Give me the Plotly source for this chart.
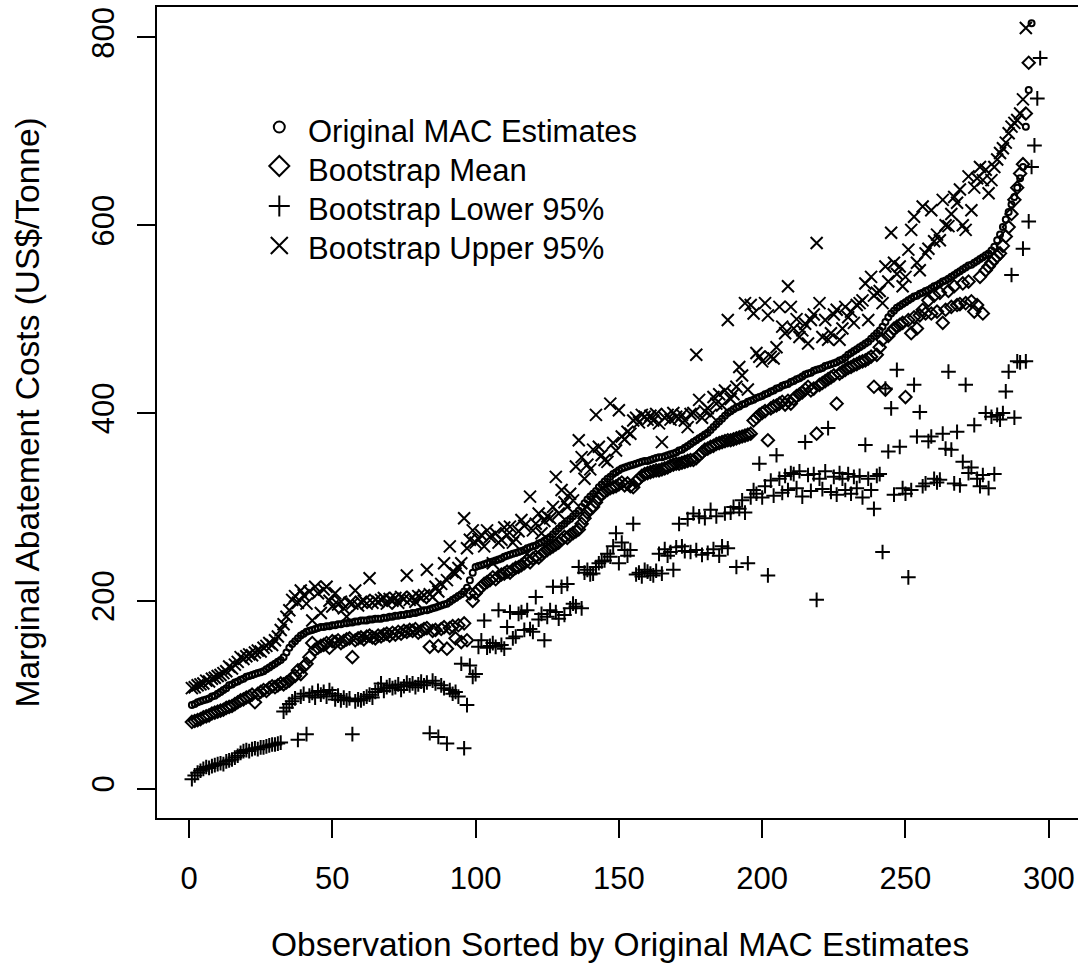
import plotly.graph_objects as go

# ---- data (observation index = position in list, starting at 1) ----
original_mac = [
    89, 90, 92, 93, 94, 95, 96, 98, 99, 101,
    103, 105, 107, 110, 111, 113, 114, 116, 117, 119,
    120, 121, 122, 123, 124, 125, 127, 129, 131, 133,
    135, 137, 140, 145, 150, 154, 157, 160, 163, 165,
    167, 168, 169, 170, 171, 172, 172, 173, 173, 174,
    174, 175, 175, 176, 176, 177, 177, 178, 178, 179,
    179, 179, 180, 180, 181, 181, 181, 182, 182, 183,
    183, 184, 184, 185, 185, 186, 186, 187, 187, 188,
    189, 190, 190, 191, 192, 193, 194, 195, 196, 197,
    199, 201, 203, 205, 207, 210, 214, 222, 230, 236,
    237, 238, 239, 240, 241, 242, 243, 244, 245, 247,
    248, 249, 250, 251, 252, 253, 254, 256, 257, 258,
    259, 261, 262, 264, 266, 268, 271, 274, 277, 280,
    282, 285, 287, 290, 293, 296, 300, 304, 308, 311,
    314, 317, 321, 324, 327, 330, 332, 335, 337, 339,
    341, 342, 343, 344, 345, 346, 347, 348, 349, 349,
    350, 351, 352, 353, 353, 354, 355, 356, 357, 358,
    360, 361, 363, 365, 367, 369, 371, 373, 375, 377,
    379, 382, 385, 388, 391, 394, 397, 400, 402, 404,
    406, 407, 409, 410, 412, 413, 414, 416, 417, 418,
    420, 421, 423, 424, 426, 427, 429, 430, 431, 433,
    434, 436, 437, 439, 441, 442, 443, 445, 446, 447,
    448, 450, 451, 452, 453, 454, 456, 457, 459, 462,
    464, 466, 468, 470, 472, 474, 476, 479, 482, 485,
    488, 492, 497, 502, 506, 509, 512, 514, 516, 518,
    520, 522, 524, 525, 527, 528, 530, 531, 533, 535,
    536, 538, 540, 541, 543, 545, 547, 549, 551, 553,
    555, 557, 558, 560, 562, 564, 566, 568, 570, 573,
    577, 584, 590, 598, 606, 614, 622, 630, 640, 650,
    662, 705, 744, 815,
]

bootstrap_mean = [
    71, 72, 73, 74, 76, 77, 78, 80, 81, 82,
    83, 84, 86, 87, 88, 90, 92, 94, 95, 97,
    98, 100, 92, 101, 103, 105, 104, 107, 109, 108,
    110, 112, 111, 113, 115, 118, 120, 126, 122, 130,
    133, 140, 155, 148, 150, 152, 153, 155, 150, 157,
    156, 158, 155, 157, 159, 160, 140, 158, 160, 161,
    159, 162, 163, 161, 160, 163, 162, 164, 165, 163,
    166, 164, 167, 165, 168, 167, 169, 168, 170, 166,
    168, 170, 171, 151, 168, 169, 152, 170, 172, 149,
    171, 173, 160, 174, 156, 176, 158, 208, 200, 208,
    212, 215, 218, 220, 222, 225, 223, 226, 228, 229,
    231, 230, 233, 235, 236, 238, 240, 243, 241, 245,
    247, 246, 249, 252, 254, 256, 258, 260, 262, 265,
    268, 267, 270, 272, 274, 276, 282, 288, 294, 298,
    300, 305, 310, 314, 316, 318, 320, 321, 322, 324,
    326, 323, 325, 322, 321, 327, 330, 333, 335, 336,
    337, 338, 339, 339, 340, 341, 342, 344, 345, 346,
    346, 347, 348, 349, 350, 350, 352, 355, 358, 361,
    362, 364, 365, 367, 368, 369, 370, 371, 371, 372,
    373, 374, 375, 376, 377, 378, 392, 395, 398, 400,
    402, 371, 405, 407, 408, 410, 412, 409, 413, 410,
    415, 418, 420, 422, 425, 428, 424, 426, 378, 430,
    432, 434, 436, 438, 440, 410, 442, 444, 446, 448,
    449, 451, 452, 454, 455, 456, 458, 460, 428, 462,
    470, 478, 425, 482, 486, 490, 492, 494, 496, 417,
    499, 485, 502, 490, 504, 510, 506, 520, 506, 525,
    508, 528, 496, 510, 530, 513, 535, 515, 516, 538,
    517, 540, 519, 508, 515, 545, 506, 552, 556, 560,
    564, 567, 570, 578, 588, 598, 612, 627, 640, 655,
    665, 719, 773,
]

bootstrap_lower = [
    10, 14, 17, 19, 21, 23, 22, 24, 25, 26,
    27, 26, 29, 30, 31, 33, 35, 38, 40, 41,
    40, 42, 43, 42, 44, 44, 45, 46, 47, 47,
    48, 49, 82, 86, 90, 93, 96, 52, 98, 101,
    58, 99, 102, 97, 104, 100, 103, 98, 105, 101,
    95, 99, 94, 97, 94, 96, 58, 93, 95, 94,
    96, 98, 100, 97, 103, 106, 112, 104, 108, 110,
    107, 108, 111, 105, 109, 113, 110, 112, 108, 111,
    114, 110, 113, 59, 115, 112, 55, 110, 107, 48,
    105, 101, 103, 98, 133, 43, 89, 131, 119, 122,
    151, 158, 179, 150, 152, 155, 151, 190, 153, 149,
    172, 188, 160, 162, 186, 188, 169, 190, 170, 167,
    204, 180, 186, 158, 183, 190, 215, 188, 181, 215,
    185, 218, 192, 197, 194, 236, 192, 230, 233, 228,
    229, 236, 240, 242, 243, 250, 247, 258, 272, 240,
    262, 254, 248, 254, 282, 228, 230, 226, 233, 231,
    229, 227, 232, 250, 229, 255, 248, 252, 233, 257,
    282, 258, 253, 287, 252, 293, 254, 290, 249, 288,
    251, 297, 255, 290, 248, 258, 293, 256, 294, 300,
    236, 298, 307, 294, 240, 310, 318, 314, 346, 310,
    322, 227, 328, 312, 355, 330, 315, 333, 318, 336,
    335, 320, 338, 311, 369, 334, 317, 335, 201, 330,
    319, 338, 384, 316, 332, 313, 336, 330, 318, 335,
    314, 332, 320, 333, 310, 366, 330, 318, 298, 333,
    335, 252, 426, 359, 405, 313, 446, 364, 320, 314,
    225, 318, 430, 375, 401, 322, 325, 370, 375, 330,
    326, 329, 378, 362, 444, 361, 325, 380, 323, 348,
    430, 336, 342, 387, 330, 322, 334, 400, 320, 396,
    335, 398, 393, 400, 423, 444, 547, 395, 455, 454,
    575, 455, 604, 662, 685, 735, 778,
]

bootstrap_upper = [
    107, 108, 110, 111, 112, 115, 114, 117, 118, 120,
    121, 123, 125, 130, 128, 132, 135, 140, 138, 141,
    143, 142, 145, 147, 146, 150, 152, 155, 153, 158,
    162, 169, 175, 183, 190, 201, 205, 198, 211, 206,
    197, 210, 179, 215, 208, 187, 212, 215, 200, 194,
    208, 196, 199, 192, 183, 198, 197, 211, 195, 199,
    200, 197, 224, 198, 201, 199, 201, 203, 197, 202,
    200, 203, 198, 204, 202, 227, 201, 204, 199, 205,
    203, 206, 233, 207, 204, 215, 210, 218, 240, 222,
    258, 231, 229, 235, 240, 288, 256, 265, 275, 262,
    266, 270, 258, 275, 268, 240, 272, 262, 265, 278,
    270, 279, 262, 266, 274, 286, 280, 250, 311, 275,
    282, 293, 272, 285, 290, 288, 300, 332, 293, 318,
    305, 300, 314, 307, 343, 371, 353, 330, 345, 340,
    361, 398, 364, 355, 350, 348, 410, 368, 360, 403,
    375, 372, 380, 378, 392, 395, 390, 398, 396, 393,
    397, 392, 399, 389, 369, 395, 398, 393, 400, 396,
    394, 398, 392, 385, 399, 400, 462, 414, 395, 402,
    405, 398, 417, 410, 420, 408, 424, 499, 415, 420,
    428, 449, 440, 517, 425, 515, 506, 464, 460, 455,
    517, 504, 460, 458, 470, 513, 492, 485, 535, 513,
    490, 500, 481, 488, 495, 474, 499, 505, 581, 517,
    481, 499, 478, 485, 505, 510, 478, 490, 513, 502,
    508, 496, 515, 517, 520, 538, 499, 545, 525, 528,
    530, 517, 556, 540, 592, 560, 548, 556, 535, 545,
    574, 595, 609, 560, 552, 620, 570, 575, 616, 583,
    590, 584, 627, 600, 599, 612, 630, 624, 638, 600,
    595, 652, 616, 640, 650, 662, 648, 659, 634, 648,
    662, 670, 677, 682, 688, 698, 705, 709, 712, 719,
    734, 810,
]

series_names = ["Original MAC Estimates", "Bootstrap Mean",
                "Bootstrap Lower 95%", "Bootstrap Upper 95%"]
x_ticks = [0, 50, 100, 150, 200, 250, 300]
y_ticks = [0, 200, 400, 600, 800]

FONT = "Liberation Sans, Arial, Helvetica, sans-serif"
BLACK = "black"

def idx(values):
    return list(range(1, len(values) + 1))

# (values, plotly symbol, marker size, legend symbol path in pixels)
series = [
    (original_mac, "circle-open", 6, None),
    (bootstrap_mean, "diamond-open", 9.5, "M-10,0L0,10L10,0L0,-10Z"),
    (bootstrap_lower, "cross-thin-open", 10.5, "M-10.5,0H10.5M0,-10.5V10.5"),
    (bootstrap_upper, "x-thin-open", 12, "M-8.5,-8.5L8.5,8.5M-8.5,8.5L8.5,-8.5"),
]

fig = go.Figure()
for (vals, sym, size, _), name in zip(series, series_names):
    fig.add_trace(go.Scatter(
        x=idx(vals), y=vals, mode="markers", name=name, showlegend=False,
        marker=dict(symbol=sym, size=size, color=BLACK,
                    line=dict(color=BLACK, width=2)),
        hoverinfo="name+x+y",
    ))

# ---- legend drawn as in the reference (symbol + text rows) ----
PLOT_L, PLOT_W, PLOT_B, PLOT_H = 157, 921, 818, 811
def px_x(p):
    return (p - PLOT_L) / PLOT_W
def px_y(p):
    return (PLOT_B - p) / PLOT_H

legend_symbol_x = 279.3
legend_text_x = 305.5
legend_symbol_rows = [127, 166, 206, 245.5]
legend_text_rows = [131, 170.5, 209.5, 248.5]

shapes = []
annotations = []
for (vals, sym, size, path), name, ys, yt in zip(series, series_names,
                                                 legend_symbol_rows, legend_text_rows):
    common = dict(xref="paper", yref="paper", xsizemode="pixel", ysizemode="pixel",
                  xanchor=px_x(legend_symbol_x), yanchor=px_y(ys),
                  line=dict(color=BLACK, width=2))
    if path is None:
        shapes.append(dict(type="circle", x0=-5.5, x1=5.5, y0=-5.5, y1=5.5, **common))
    else:
        shapes.append(dict(type="path", path=path, **common))
    annotations.append(dict(text=name, xref="paper", yref="paper",
                            x=px_x(legend_text_x), y=px_y(yt),
                            xanchor="left", yanchor="middle", showarrow=False,
                            font=dict(family=FONT, size=31, color=BLACK)))

TITLE_SIZE = 33.5
annotations += [
    dict(text="Observation Sorted by Original MAC Estimates",
         xref="paper", yref="paper", x=px_x(620), y=px_y(944),
         xanchor="center", yanchor="middle", showarrow=False,
         font=dict(family=FONT, size=TITLE_SIZE, color=BLACK)),
    dict(text="Marginal Abatement Costs (US$/Tonne)",
         xref="paper", yref="paper", x=px_x(27), y=0.5,
         xanchor="center", yanchor="middle", showarrow=False, textangle=-90,
         font=dict(family=FONT, size=TITLE_SIZE, color=BLACK)),
]

fig.update_layout(
    width=1078, height=974,
    margin=dict(l=157, r=0, t=7, b=156),
    paper_bgcolor="white", plot_bgcolor="white",
    font=dict(family=FONT, size=31, color=BLACK),
    showlegend=False,
    xaxis=dict(range=[-11.17, 310.2], tickmode="array", tickvals=x_ticks,
               ticktext=[str(v) for v in x_ticks],
               showgrid=False, zeroline=False,
               showline=True, linecolor=BLACK, linewidth=2, mirror=True,
               ticks="outside", ticklen=18, tickwidth=2, tickcolor=BLACK,
               ticklabelstandoff=14,
               tickfont=dict(family=FONT, size=31, color=BLACK)),
    yaxis=dict(range=[-31.3, 832.4], tickmode="array", tickvals=y_ticks,
               ticktext=[str(v) for v in y_ticks],
               showgrid=False, zeroline=False,
               showline=True, linecolor=BLACK, linewidth=2, mirror=False,
               ticks="outside", ticklen=18, tickwidth=2, tickcolor=BLACK,
               tickangle=-90, ticklabelstandoff=11,
               tickfont=dict(family=FONT, size=31, color=BLACK)),
    shapes=shapes,
    annotations=annotations,
)

fig.write_html("out.html",
               config={"displayModeBar": False},
               post_script="document.body.style.margin='0px';"
                           "document.body.style.overflow='hidden';")
